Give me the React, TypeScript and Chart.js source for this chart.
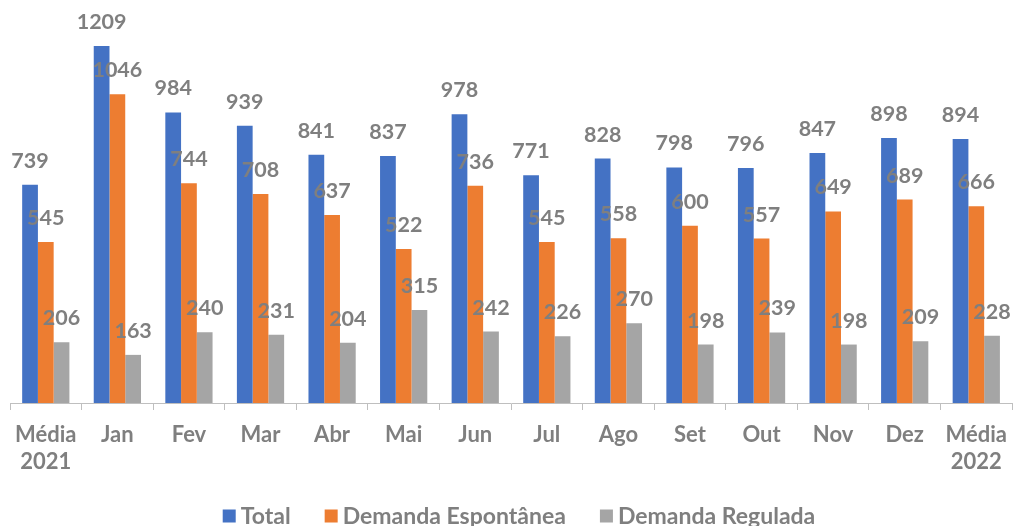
import React, { useEffect, useRef } from 'react';
import { Chart, registerables } from 'chart.js';

Chart.register(...registerables);

const categories: (string | string[])[] = [
  ['Média', '2021'], 'Jan', 'Fev', 'Mar', 'Abr', 'Mai', 'Jun', 'Jul', 'Ago', 'Set', 'Out', 'Nov', 'Dez', ['Média', '2022'],
];
const totalValues = [739, 1209, 984, 939, 841, 837, 978, 771, 828, 798, 796, 847, 898, 894];
const espontaneaValues = [545, 1046, 744, 708, 637, 522, 736, 545, 558, 600, 557, 649, 689, 666];
const reguladaValues = [206, 163, 240, 231, 204, 315, 242, 226, 270, 198, 239, 198, 209, 228];
const seriesNames = ['Total', 'Demanda Espontânea', 'Demanda Regulada'];
const seriesColors = ['#4472C4', '#ED7D31', '#A5A5A5'];

const FONT = 'Lato, "Open Sans", sans-serif';
const TEXT_GRAY = '#7f7f7f';

const valueLabels = {
  id: 'valueLabels',
  afterDatasetsDraw(chart: any) {
    const ctx = chart.ctx;
    ctx.save();
    ctx.font = `bold 21.5px ${FONT}`;
    ctx.fillStyle = TEXT_GRAY;
    ctx.textAlign = 'center';
    ctx.textBaseline = 'alphabetic';
    chart.data.datasets.forEach((ds: any, i: number) => {
      const meta = chart.getDatasetMeta(i);
      meta.data.forEach((bar: any, j: number) => {
        ctx.fillText(String(ds.data[j]), bar.x, bar.y - 17);
      });
    });
    ctx.restore();
  },
};

const bottomLegend = {
  id: 'bottomLegend',
  afterDraw(chart: any) {
    const ctx = chart.ctx;
    ctx.save();
    ctx.font = `bold 23px ${FONT}`;
    ctx.textBaseline = 'middle';
    ctx.textAlign = 'left';
    const box = 13;
    const gapBoxText = 5;
    const gapItems = 34;
    const items = chart.data.datasets.map((ds: any) => ({
      label: ds.label,
      color: ds.backgroundColor,
      w: ctx.measureText(ds.label).width,
    }));
    const total = items.reduce((s: number, it: any) => s + box + gapBoxText + it.w, 0) + gapItems * (items.length - 1);
    const cx = 519;
    const cy = 516;
    let x = cx - total / 2;
    items.forEach((it: any) => {
      ctx.fillStyle = it.color;
      ctx.fillRect(x, cy - box / 2, box, box);
      x += box + gapBoxText;
      ctx.fillStyle = TEXT_GRAY;
      ctx.fillText(it.label, x, cy + 1);
      x += it.w + gapItems;
    });
    ctx.restore();
  },
};

export default function App() {
  const ref = useRef<HTMLCanvasElement | null>(null);
  useEffect(() => {
    if (!ref.current) return;
    const chart = new Chart(ref.current, {
      type: 'bar',
      data: {
        labels: categories as any,
        datasets: [
          { label: seriesNames[0], data: totalValues, backgroundColor: seriesColors[0] },
          { label: seriesNames[1], data: espontaneaValues, backgroundColor: seriesColors[1] },
          { label: seriesNames[2], data: reguladaValues, backgroundColor: seriesColors[2] },
        ],
      },
      options: {
        animation: false,
        responsive: false,
        maintainAspectRatio: false,
        layout: { padding: { top: 0, left: 10, right: 0, bottom: 40 } },
        datasets: { bar: { categoryPercentage: 0.66, barPercentage: 1 } } as any,
        plugins: {
          legend: { display: false },
          tooltip: { enabled: false },
        },
        scales: {
          x: {
            grid: { offset: true, drawOnChartArea: false, drawTicks: true, tickLength: 7, color: '#bfbfbf' },
            border: { display: true, color: '#bfbfbf', width: 1 },
            ticks: {
              font: { family: FONT, size: 22, weight: 'bold', lineHeight: 1.2 },
              color: TEXT_GRAY,
              padding: 12,
              maxRotation: 0,
              autoSkip: false,
            },
            afterFit: (s: any) => { s.height = 83; },
          },
          y: { display: false, min: 0, max: 1365 },
        },
      },
      plugins: [valueLabels, bottomLegend],
    });
    return () => chart.destroy();
  }, []);
  return (
    <div style={{ position: 'fixed', left: 0, top: 0, width: 1019, height: 526, background: '#fff' }}>
      <canvas ref={ref} width={1019} height={526} style={{ width: 1019, height: 526, display: 'block' }} />
    </div>
  );
}
